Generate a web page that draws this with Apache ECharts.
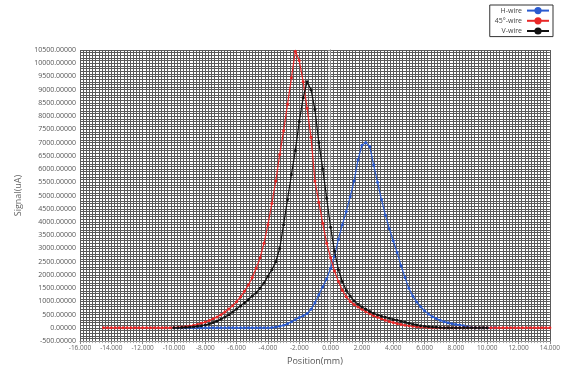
<!DOCTYPE html>
<html><head><meta charset="utf-8">
<script src="https://cdn.jsdelivr.net/npm/echarts@6/dist/echarts.min.js"></script>
<style>html,body{margin:0;padding:0;background:#fff}#c{width:563px;height:371px}</style>
</head><body><div id="c"></div>
<script>
const positions = [-14.5,-14.25,-14,-13.75,-13.5,-13.25,-13,-12.75,-12.5,-12.25,-12,-11.75,-11.5,-11.25,-11,-10.75,-10.5,-10.25,
-10,-9.75,-9.5,-9.25,-9,-8.75,-8.5,-8.25,-8,-7.75,-7.5,-7.25,-7,-6.75,-6.5,-6.25,-6,-5.75,-5.5,-5.25,-5,-4.75,-4.5,-4.25,-4,-3.75,-3.5,-3.25,-3,-2.75,-2.5,-2.25,-2,-1.75,-1.5,-1.25,-1,-0.75,-0.5,-0.25,
0,0.25,0.5,0.75,1,1.25,1.5,1.75,2,2.25,2.5,2.75,3,3.25,3.5,3.75,4,4.25,4.5,4.75,5,5.25,5.5,5.75,6,6.25,6.5,6.75,7,7.25,7.5,7.75,8,8.25,8.5,8.75,9,9.25,9.5,9.75,10,10.25,10.5,10.75,11,11.25,11.5,11.75,12,12.25,12.5,12.75,13,13.25,13.5,13.75,14];

const wire45 = [0,0,0,0,0,0,0,0,0,0,0,0,0,0,0,0,0,0,
10,20,35,50,70,100,130,170,220,280,340,410,500,600,710,840,990,1170,1380,1620,1900,2250,2650,3200,3900,4700,5550,6550,7450,8450,9450,10450,10100,9300,8300,7200,5550,4750,3950,3200,
2650,2150,1750,1420,1180,1000,880,790,700,610,530,460,400,340,290,240,200,160,130,100,80,60,45,30,20,10,
0,0,0,0,0,0,0,0,0,0,0,0,0,0,0,0,0,0,0,0,0,0,0,0,0,0,0,0,0,0,0];

const wireV = [null,null,null,null,null,null,null,null,null,null,null,null,null,null,null,null,null,null,
0,5,10,20,30,45,60,80,110,150,200,260,330,410,500,600,710,830,950,1070,1200,1330,1500,1700,1950,2200,2500,3000,3900,4850,5800,6700,7800,8700,9300,9000,8250,7000,6000,4900,
3800,2900,2200,1750,1420,1200,1020,890,785,700,620,550,490,440,400,360,320,290,250,210,170,140,110,80,60,45,30,20,10,
0,0,0,0,0,0,0,0,0,0,0,0,
null,null,null,null,null,null,null,null,null,null,null,null,null,null,null,null];

const wireH = [null,null,null,null,null,null,null,null,null,null,null,null,null,null,null,null,null,null,
0,0,0,0,0,0,0,0,0,0,0,0,0,0,0,0,0,0,0,0,0,0,0,0,0,
10,30,60,100,160,230,310,390,460,540,700,950,1250,1550,1850,
2250,2700,3350,3900,4400,4950,5550,6350,6900,7000,6850,6150,5500,4850,4260,3750,3290,2850,2350,1900,1500,1200,980,800,650,520,420,350,290,230,190,160,130,110,80,40,10,
0,0,0,0,0,0,
null,null,null,null,null,null,null,null,null,null,null,null,null,null];

const seriesNames = ['H-wire','45°-wire','V-wire'];
const seriesColors = ['#2a5bd0','#e82828','#111111'];

function pairs(vals){ const out=[]; vals.forEach((v,i)=>{ if(v!==null) out.push([positions[i],v]); }); return out; }

const chart = echarts.init(document.getElementById('c'));
const FONT = 'Open Sans';
const gridCol = '#5a5a5a';
chart.setOption({
  animation:false,
  backgroundColor:'#fff',
  textStyle:{fontFamily:FONT},
  legend:{
    orient:'vertical', right:10, top:5, align:'right',
    backgroundColor:'#fff', borderColor:'#333', borderWidth:1, padding:[2,3,2,5],
    itemGap:3, itemWidth:22, itemHeight:9,
    textStyle:{fontSize:7, color:'#444', fontFamily:FONT},
    data:seriesNames
  },
  grid:{left:80, right:10, top:50, bottom:27},
  xAxis:{
    type:'value', min:-16, max:14, interval:2,
    name:'Position(mm)', nameLocation:'middle', nameGap:12,
    nameTextStyle:{fontSize:9, color:'#555', fontFamily:FONT},
    axisLine:{show:true, onZero:false, lineStyle:{color:'#888'}},
    axisTick:{show:true, length:3, lineStyle:{color:'#888'}},
    minorTick:{show:true, splitNumber:10, length:2, lineStyle:{color:'#aaa'}},
    axisLabel:{fontSize:6.5, color:'#666', margin:4, formatter:v=>v.toFixed(3)},
    splitLine:{show:true, lineStyle:{color:gridCol, width:1}},
    minorSplitLine:{show:true, lineStyle:{color:gridCol, width:1}}
  },
  yAxis:{
    type:'value', min:-500, max:10500, interval:500,
    name:'Signal(uA)', nameLocation:'middle', nameGap:57, nameRotate:90,
    nameTextStyle:{fontSize:9, color:'#666', fontFamily:FONT},
    axisLine:{show:true, lineStyle:{color:'#888'}},
    axisTick:{show:true, length:3, lineStyle:{color:'#888'}},
    axisLabel:{fontSize:7, color:'#555', margin:4, formatter:v=>v.toFixed(5)},
    splitLine:{show:true, lineStyle:{color:gridCol, width:1}},
    minorSplitLine:{show:true, lineStyle:{color:gridCol, width:1}},
    minorTick:{show:true, splitNumber:5, length:2, lineStyle:{color:'#aaa'}}
  },
  series:[
    {name:seriesNames[0], type:'line', data:pairs(wireH), color:seriesColors[0], symbol:'circle', symbolSize:3, lineStyle:{width:1.2}, z:3},
    {name:seriesNames[1], type:'line', data:pairs(wire45), color:seriesColors[1], symbol:'circle', symbolSize:3, lineStyle:{width:1.2}, z:4},
    {name:seriesNames[2], type:'line', data:pairs(wireV), color:seriesColors[2], symbol:'circle', symbolSize:3, lineStyle:{width:1.2}, z:5}
  ]
});
</script></body></html>
